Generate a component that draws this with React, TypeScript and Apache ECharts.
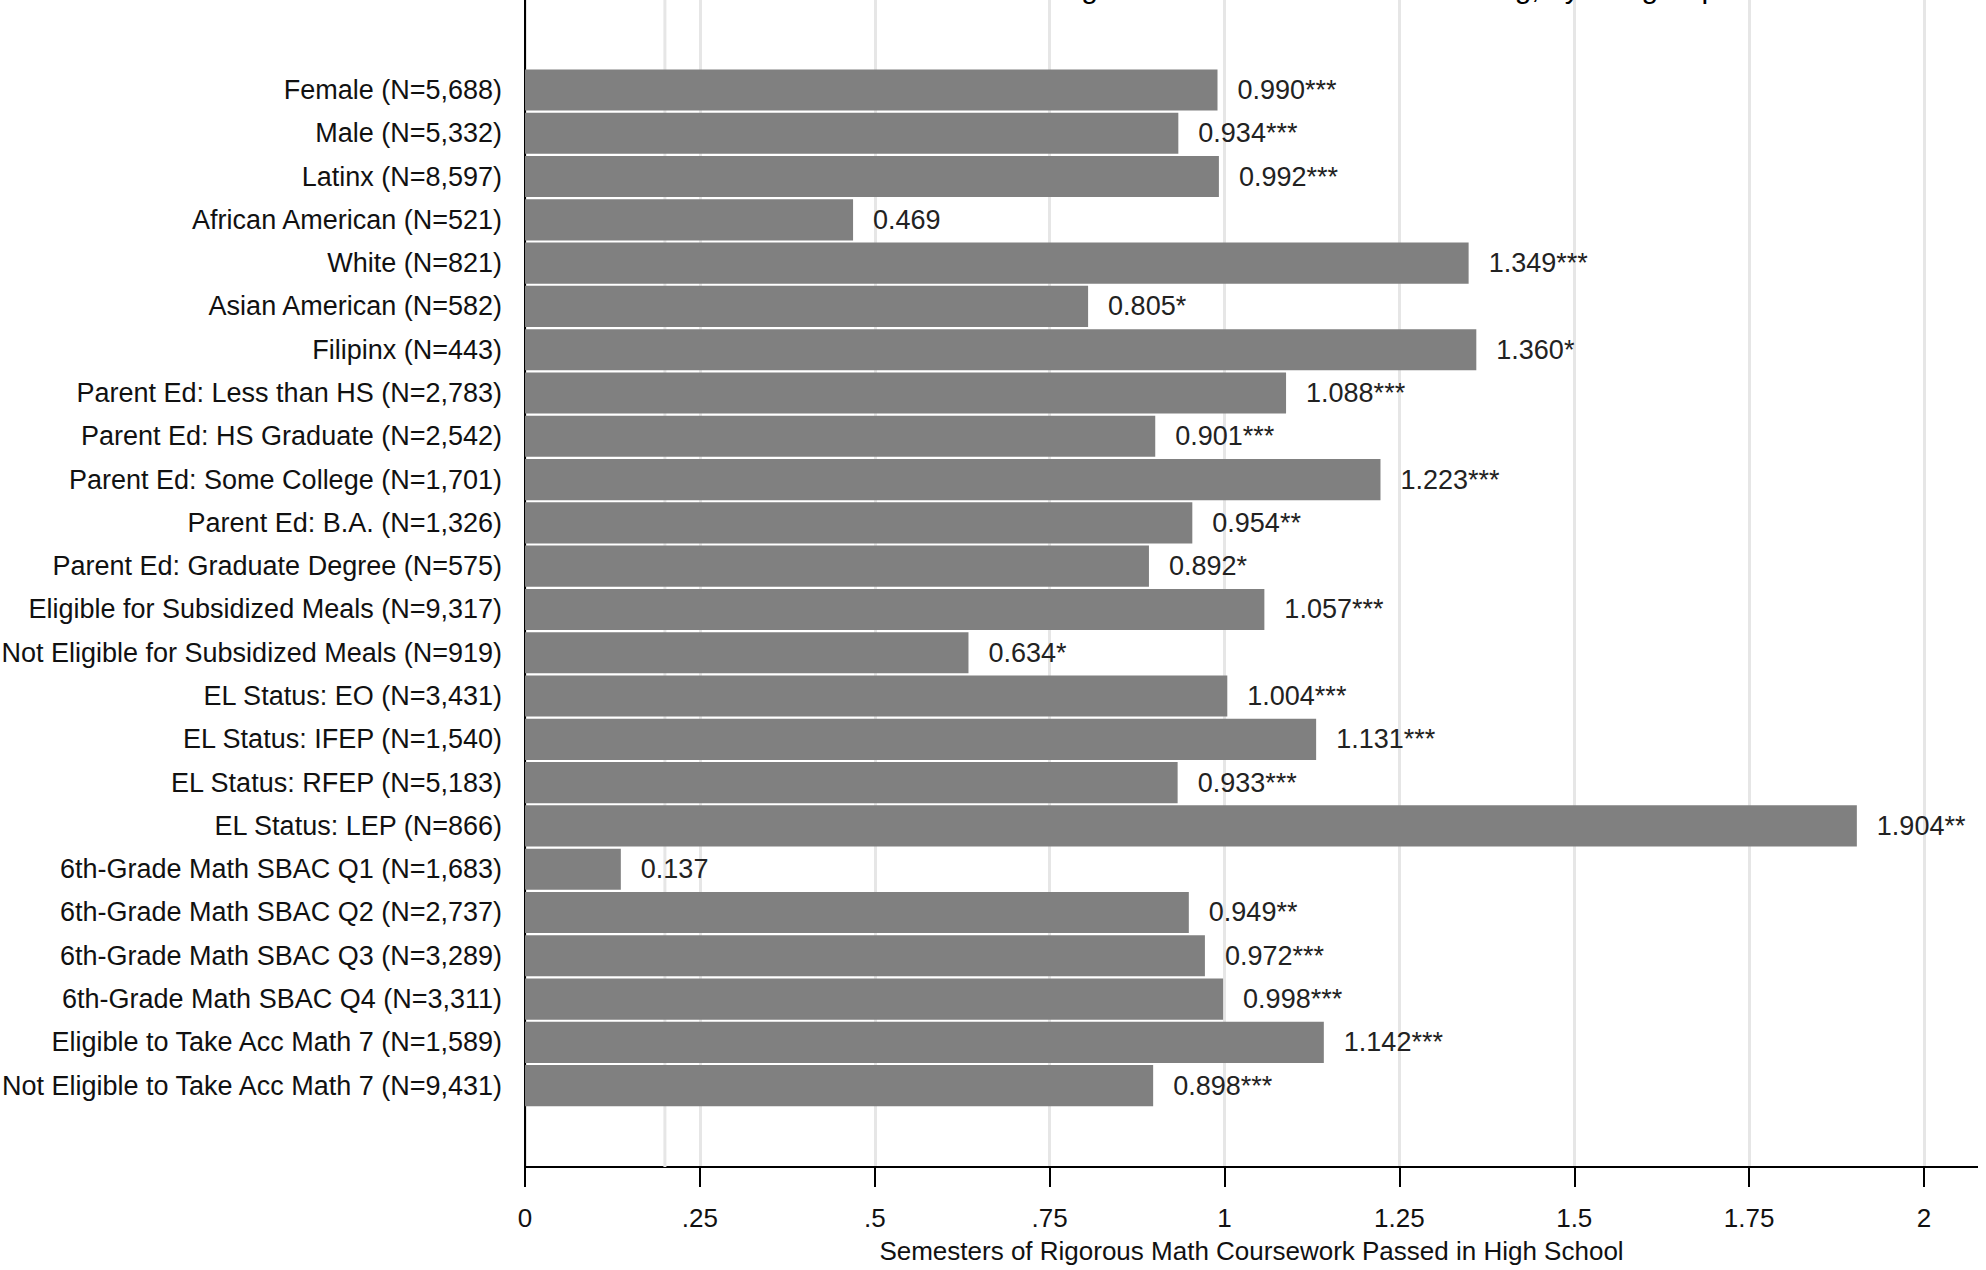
import React, { useEffect, useRef } from "react";
import * as echarts from "echarts";

const categories = [
  "Female (N=5,688)",
  "Male (N=5,332)",
  "Latinx (N=8,597)",
  "African American (N=521)",
  "White (N=821)",
  "Asian American (N=582)",
  "Filipinx (N=443)",
  "Parent Ed: Less than HS (N=2,783)",
  "Parent Ed: HS Graduate (N=2,542)",
  "Parent Ed: Some College (N=1,701)",
  "Parent Ed: B.A. (N=1,326)",
  "Parent Ed: Graduate Degree (N=575)",
  "Eligible for Subsidized Meals (N=9,317)",
  "Not Eligible for Subsidized Meals (N=919)",
  "EL Status: EO (N=3,431)",
  "EL Status: IFEP (N=1,540)",
  "EL Status: RFEP (N=5,183)",
  "EL Status: LEP (N=866)",
  "6th-Grade Math SBAC Q1 (N=1,683)",
  "6th-Grade Math SBAC Q2 (N=2,737)",
  "6th-Grade Math SBAC Q3 (N=3,289)",
  "6th-Grade Math SBAC Q4 (N=3,311)",
  "Eligible to Take Acc Math 7 (N=1,589)",
  "Not Eligible to Take Acc Math 7 (N=9,431)",
];

const values = [
  0.99, 0.934, 0.992, 0.469, 1.349, 0.805, 1.36, 1.088, 0.901, 1.223, 0.954,
  0.892, 1.057, 0.634, 1.004, 1.131, 0.933, 1.904, 0.137, 0.949, 0.972, 0.998,
  1.142, 0.898,
];

const stars = [
  "***", "***", "***", "", "***", "*", "*", "***", "***", "***", "**",
  "*", "***", "*", "***", "***", "***", "**", "", "**", "***", "***",
  "***", "***",
];

const xTickLabels: Record<string, string> = {
  "0": "0",
  "0.25": ".25",
  "0.5": ".5",
  "0.75": ".75",
  "1": "1",
  "1.25": "1.25",
  "1.5": "1.5",
  "1.75": "1.75",
  "2": "2",
};

const extraGridline = [0.2];

const titleText = "Estimated Effect on Rigorous Math Coursework Passing, by Subgroup";
const xAxisTitle = "Semesters of Rigorous Math Coursework Passed in High School";

const FONT = "'Liberation Sans Narrow', 'Arial Narrow', 'Liberation Sans', Arial, sans-serif";

export default function App() {
  const ref = useRef<HTMLDivElement>(null);
  useEffect(() => {
    document.body.style.margin = "0";
    if (!ref.current) return;
    const chart = echarts.init(ref.current, undefined, { renderer: "svg" });
    const plotLeft = 525;
    const plotWidth = 1399;
    const axisEnd = 1978;
    const axisY = 1167;
    chart.setOption({
      animation: false,
      backgroundColor: "#ffffff",
      textStyle: { fontFamily: FONT },
      grid: [
        {
          left: plotLeft,
          top: -40,
          width: plotWidth,
          height: axisY + 40,
          containLabel: false,
          outerBoundsMode: "none",
        },
        {
          left: plotLeft,
          top: 68.3,
          width: plotWidth,
          height: 1039,
          containLabel: false,
          outerBoundsMode: "none",
        },
      ],
      xAxis: [
        {
          gridIndex: 0,
          type: "value",
          min: 0,
          max: 2,
          interval: 0.25,
          axisLine: { show: true, lineStyle: { color: "#000", width: 2 } },
          axisTick: { show: true, length: 20, lineStyle: { color: "#000", width: 2 } },
          axisLabel: {
            show: true,
            fontSize: 26,
            color: "#111",
            fontFamily: FONT,
            margin: 38,
            formatter: (v: number) => xTickLabels[String(v)] ?? String(v),
          },
          splitLine: { show: true, lineStyle: { color: "#e6e6e6", width: 3 } },
          name: xAxisTitle,
          nameLocation: "middle",
          nameGap: 71,
          nameTextStyle: {
            fontSize: 26,
            color: "#111",
            fontFamily: FONT,
            padding: [0, 0, 0, axisEnd - plotLeft - plotWidth],
          },
        },
        {
          gridIndex: 1,
          type: "value",
          min: 0,
          max: 2,
          show: false,
        },
      ],
      yAxis: [
        {
          gridIndex: 0,
          type: "value",
          min: 0,
          max: 1,
          axisLine: { show: true, lineStyle: { color: "#000", width: 2 } },
          axisTick: { show: false },
          axisLabel: { show: false },
          splitLine: { show: false },
        },
        {
          gridIndex: 1,
          type: "category",
          data: categories,
          inverse: true,
          axisLine: { show: false },
          axisTick: { show: false },
          axisLabel: {
            show: true,
            fontSize: 27,
            color: "#111",
            fontFamily: FONT,
            margin: 23,
          },
          splitLine: { show: false },
        },
      ],
      graphic: [
        {
          type: "line",
          shape: { x1: plotLeft + plotWidth, y1: axisY, x2: axisEnd, y2: axisY },
          style: { stroke: "#000", lineWidth: 2 },
          z: 10,
        },
        {
          type: "text",
          x: (plotLeft + axisEnd) / 2,
          y: 2,
          style: {
            text: titleText,
            font: `30px ${FONT}`,
            fill: "#000",
            align: "center",
            verticalAlign: "bottom",
          },
        },
      ],
      series: [
        {
          type: "line",
          xAxisIndex: 0,
          yAxisIndex: 0,
          data: extraGridline.flatMap((v) => [[v, 0], [v, 1]]),
          symbol: "none",
          silent: true,
          z: 1,
          lineStyle: { color: "#e6e6e6", width: 3 },
        },
        {
          type: "bar",
          xAxisIndex: 1,
          yAxisIndex: 1,
          data: values,
          barCategoryGap: "5%",
          z: 3,
          itemStyle: { color: "#808080" },
          label: {
            show: true,
            position: "right",
            distance: 20,
            fontSize: 27,
            color: "#222",
            fontFamily: FONT,
            formatter: (p: any) => values[p.dataIndex].toFixed(3) + stars[p.dataIndex],
          },
        },
      ],
    });
    return () => chart.dispose();
  }, []);
  return <div ref={ref} style={{ width: 1986, height: 1270 }} />;
}
